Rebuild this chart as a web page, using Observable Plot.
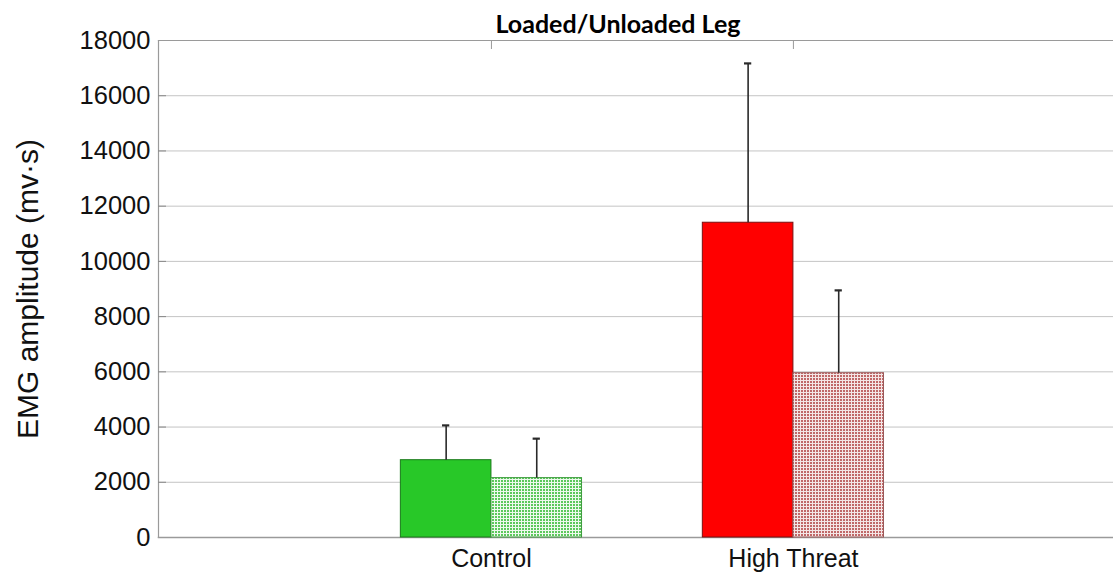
<!DOCTYPE html>
<html>
<head>
<meta charset="utf-8">
<script src="https://cdn.jsdelivr.net/npm/d3@7"></script>
<script src="https://cdn.jsdelivr.net/npm/@observablehq/plot@0.6"></script>
<style>
  html, body { margin: 0; padding: 0; background: #fff; }
  #chart svg { display: block; }
</style>
</head>
<body>
<div id="chart"></div>
<script>
// ---- data ----
const groups = ["Control", "High Threat"];
const loadedMean = [2800, 11400];
const loadedSD = [1260, 5770];
const unloadedMean = [2150, 5950];
const unloadedSD = [1430, 3000];
const yTicks = [0, 2000, 4000, 6000, 8000, 10000, 12000, 14000, 16000, 18000];
const title = "Loaded/Unloaded Leg";
const yLabel = "EMG amplitude (mv·s)";

// ---- build table ----
const barWidth = 0.3;
const rows = [];
groups.forEach((g, i) => {
  const pos = i + 1;
  rows.push({group: g, pos, kind: "loaded" + i, x1: pos - barWidth, x2: pos, mean: loadedMean[i], sd: loadedSD[i]});
  rows.push({group: g, pos, kind: "unloaded" + i, x1: pos, x2: pos + barWidth, mean: unloadedMean[i], sd: unloadedSD[i]});
});
rows.forEach(d => { d.xc = (d.x1 + d.x2) / 2; d.top = d.mean + d.sd; });

const fills = {
  loaded0: "#28c828", unloaded0: "url(#patGreen)",
  loaded1: "#ff0000", unloaded1: "url(#patRed)"
};
const strokes = {
  loaded0: "#1a7a1a", unloaded0: "#3a9a3a",
  loaded1: "#7a1010", unloaded1: "#9a5a5a"
};

const capHalf = 0.012;

const chart = Plot.plot({
  width: 1113,
  height: 575,
  marginLeft: 158,
  marginRight: 0,
  marginTop: 40,
  marginBottom: 38,
  style: {fontFamily: "'Liberation Sans', Arial, sans-serif", background: "#fff"},
  x: {type: "linear", domain: [-0.1026, 3.06], axis: null},
  y: {domain: [0, 18000], axis: null},
  marks: [
    Plot.gridY(yTicks.slice(1, -1), {stroke: "#c4c4c4", strokeOpacity: 1, strokeWidth: 1}),
    Plot.frame({anchor: "top", stroke: "#9a9a9a", strokeWidth: 1.2}),
    Plot.frame({anchor: "bottom", stroke: "#9a9a9a", strokeWidth: 1.5}),
    Plot.frame({anchor: "left", stroke: "#9a9a9a", strokeWidth: 1.2}),
    Plot.axisY({ticks: yTicks, tickSize: 0, tickPadding: 8, fontSize: 25.5, label: null, fill: "#111", tickFormat: d3.format("d")}),
    Plot.axisY({ticks: yTicks.slice(1, -1), tickSize: -8, tickFormat: () => "", stroke: "#888", label: null}),
    Plot.axisX({anchor: "top", ticks: groups.map((g, i) => i + 1), tickSize: -8, tickFormat: () => "", stroke: "#999", label: null}),
    Plot.axisX({anchor: "bottom", ticks: groups.map((g, i) => i + 1), tickFormat: (d) => groups[d - 1], tickSize: 0, tickPadding: 12, fontSize: 25, label: null, fill: "#111"}),
    Plot.rectY(rows, {
      x1: "x1", x2: "x2", y1: 0, y2: "mean",
      fill: d => fills[d.kind], stroke: d => strokes[d.kind], strokeWidth: 1,
      inset: 0
    }),
    Plot.ruleX(rows, {x: "xc", y1: "mean", y2: "top", stroke: "#2a2a2a", strokeWidth: 1.6}),
    Plot.ruleY(rows, {y: "top", x1: d => d.xc - capHalf, x2: d => d.xc + capHalf, stroke: "#2a2a2a", strokeWidth: 2.2}),
    Plot.text([title], {frameAnchor: "top", lineAnchor: "bottom", dy: -8, dx: -18, fontSize: 25, fontWeight: "bold", fontFamily: "Lato, 'Open Sans', sans-serif", fill: "#000"}),
    Plot.text([yLabel], {frameAnchor: "left", textAnchor: "middle", rotate: -90, dx: -130, fontSize: 30, fill: "#111"})
  ]
});

// Patterns (fine checked grid like the original)
const ns = "http://www.w3.org/2000/svg";
const defs = document.createElementNS(ns, "defs");
function makePattern(id, bg, cell) {
  const p = document.createElementNS(ns, "pattern");
  p.setAttribute("id", id);
  p.setAttribute("patternUnits", "userSpaceOnUse");
  p.setAttribute("width", "3");
  p.setAttribute("height", "3");
  const r0 = document.createElementNS(ns, "rect");
  r0.setAttribute("width", "3"); r0.setAttribute("height", "3"); r0.setAttribute("fill", bg);
  const r1 = document.createElementNS(ns, "rect");
  r1.setAttribute("width", "2"); r1.setAttribute("height", "2"); r1.setAttribute("fill", cell);
  p.appendChild(r0); p.appendChild(r1);
  defs.appendChild(p);
}
makePattern("patGreen", "#eef9ee", "#5cc85c");
makePattern("patRed", "#f4e6e6", "#c06868");
chart.insertBefore(defs, chart.firstChild);

document.getElementById("chart").appendChild(chart);
</script>
</body>
</html>
